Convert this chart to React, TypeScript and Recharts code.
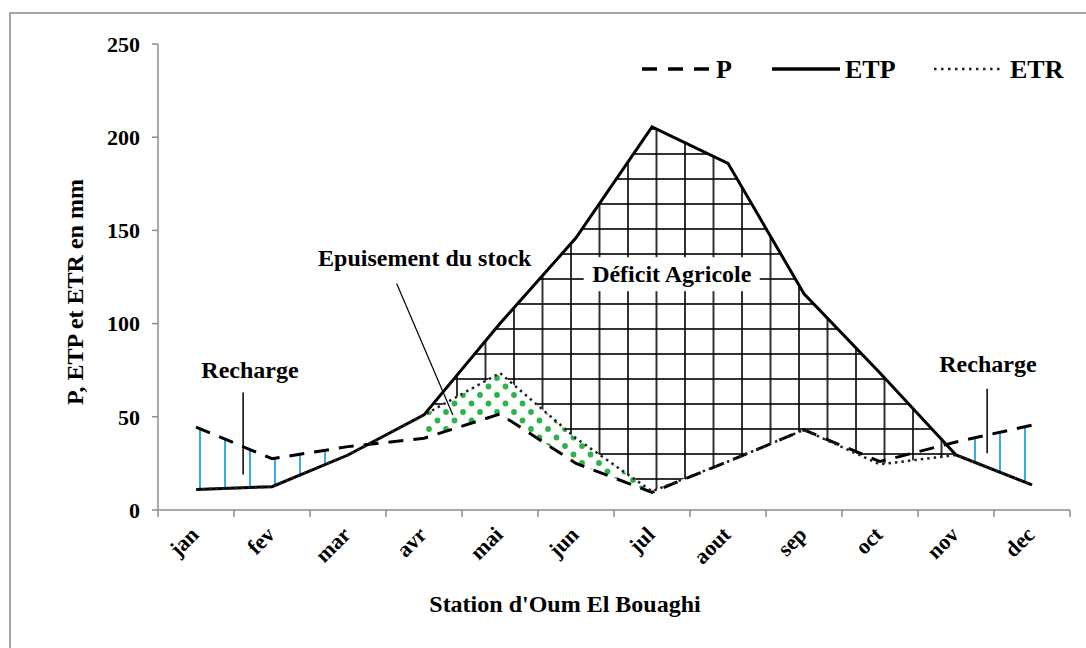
import React from "react";
import { ComposedChart, Line, Area, XAxis, YAxis, ReferenceLine, ReferenceDot } from "recharts";

const FONT = "'Liberation Serif', 'Times New Roman', serif";

const months = ["jan", "fev", "mar", "avr", "mai", "jun", "jul", "aout", "sep", "oct", "nov", "dec"];
const P = [44.5, 27.5, 34, 38.5, 51.5, 25, 9.5, 26, 43, 26, 36.5, 45.5];
const ETP = [11, 12.5, 29.5, 51, 100, 146, 205.5, 186, 116, 73.5, 29.5, 13.5];
const ETR = [11, 12.5, 29.5, 51, 73.5, 38.5, 10, 26, 43, 24.5, 29.5, 13.5];
const yTicks = [0, 50, 100, 150, 200, 250];

// months belonging to each zone of the water balance
const rechargeMonths = ["jan", "fev", "mar", "nov", "dec"];
const deficitMonths = ["avr", "mai", "jun", "jul", "aout", "sep", "oct", "nov"];
const stockMonths = ["avr", "mai", "jun", "jul"];

const data = months.map((m, i) => ({
  x: i + 0.5,
  P: P[i],
  ETP: ETP[i],
  ETR: ETR[i],
  recharge: rechargeMonths.includes(m) ? [ETP[i], P[i]] : null,
  deficit: deficitMonths.includes(m) ? [ETR[i], ETP[i]] : null,
  stock: stockMonths.includes(m) ? [P[i], ETR[i]] : null,
}));

// integer ticks = tick marks between months, half ticks = month names
const xTicks = months.flatMap((_, i) => [i, i + 0.5]).concat(months.length);

const XTick = (props: any) => {
  const { x, y, payload } = props;
  const v = payload.value;
  if (Number.isInteger(v)) {
    return <line x1={x} y1={y} x2={x} y2={y + 7} stroke="#8c8c8c" strokeWidth={1.5} />;
  }
  return (
    <text
      transform={`translate(${x + 4},${y + 26}) rotate(-45)`}
      textAnchor="end"
      fontSize={22}
      fontWeight="bold"
      fontFamily={FONT}
      fill="#000"
    >
      {months[Math.floor(v)]}
    </text>
  );
};

const note = (text: string, box = false) => (props: any) => {
  const vb = props.viewBox || {};
  const cx = vb.x + (vb.width || 0) / 2;
  const cy = vb.y + (vb.height || 0) / 2;
  return (
    <g>
      {box && <rect x={cx - 88} y={cy - 17} width={176} height={34} fill="#fff" />}
      <text
        x={cx}
        y={cy}
        textAnchor="middle"
        dominantBaseline="central"
        fontSize={24}
        fontWeight="bold"
        fontFamily={FONT}
        fill="#000"
      >
        {text}
      </text>
    </g>
  );
};

const YTitle = (props: any) => {
  const vb = props.viewBox || {};
  const cy = vb.y + vb.height / 2 + 15;
  return (
    <text
      transform={`translate(83,${cy}) rotate(-90)`}
      textAnchor="middle"
      fontSize={24}
      fontWeight="bold"
      fontFamily={FONT}
      fill="#000"
    >
      P, ETP et ETR en mm
    </text>
  );
};

const XTitle = (props: any) => {
  const vb = props.viewBox || {};
  return (
    <text
      x={vb.x + vb.width / 2 - 49}
      y={612}
      textAnchor="middle"
      fontSize={24}
      fontWeight="bold"
      fontFamily={FONT}
      fill="#000"
    >
      Station d'Oum El Bouaghi
    </text>
  );
};

export default function App() {
  return (
    <div style={{ position: "absolute", left: 0, top: 0, width: 1086, height: 648, background: "#fff", fontFamily: FONT }}>
      <div
        style={{
          position: "absolute",
          left: 9,
          top: 12,
          width: 1100,
          height: 700,
          borderTop: "2px solid #a6a6a6",
          borderLeft: "2px solid #a6a6a6",
        }}
      />
      <ComposedChart
        width={1086}
        height={648}
        data={data}
        margin={{ top: 44, right: 16, bottom: 28, left: 0 }}
        style={{ position: "absolute", left: 0, top: 0 }}
      >
        <defs>
          <pattern id="grid" patternUnits="userSpaceOnUse" width={28.5} height={25} y={3}>
            <line x1={1} y1={0} x2={1} y2={25} stroke="#000" strokeWidth={1.6} />
            <line x1={0} y1={1} x2={28.5} y2={1} stroke="#000" strokeWidth={1.6} />
          </pattern>
          <pattern id="dots" patternUnits="userSpaceOnUse" width={17} height={17}>
            <circle cx={4} cy={4} r={2.9} fill="#2db34a" />
            <circle cx={12.5} cy={12.5} r={2.9} fill="#2db34a" />
          </pattern>
          <pattern id="blue" patternUnits="userSpaceOnUse" width={25} height={10} x={-1}>
            <line x1={1} y1={0} x2={1} y2={10} stroke="#1fa3e0" strokeWidth={1.8} />
          </pattern>
        </defs>
        <XAxis
          dataKey="x"
          type="number"
          domain={[0, 12]}
          ticks={xTicks}
          interval={0}
          tickLine={false}
          tickSize={0}
          tickMargin={0}
          tick={<XTick />}
          axisLine={{ stroke: "#8c8c8c", strokeWidth: 1.5 }}
          height={110}
          label={XTitle}
        />
        <YAxis
          type="number"
          domain={[0, 250]}
          ticks={yTicks}
          width={158}
          tickSize={6}
          tickMargin={12}
          axisLine={{ stroke: "#8c8c8c", strokeWidth: 1.5 }}
          tickLine={{ stroke: "#8c8c8c", strokeWidth: 1.5 }}
          tick={{ fill: "#000", fontSize: 22, fontWeight: "bold", fontFamily: FONT }}
          label={YTitle}
        />
        <Area dataKey="deficit" stroke="none" fill="url(#grid)" fillOpacity={1} isAnimationActive={false} />
        <Area dataKey="stock" stroke="none" fill="url(#dots)" fillOpacity={1} isAnimationActive={false} />
        <Area dataKey="recharge" stroke="none" fill="url(#blue)" fillOpacity={1} isAnimationActive={false} />
        <Line dataKey="ETP" type="linear" stroke="#000" strokeWidth={3} dot={false} isAnimationActive={false} />
        <Line dataKey="P" type="linear" stroke="#000" strokeWidth={3} strokeDasharray="15 10" dot={false} isAnimationActive={false} />
        <Line dataKey="ETR" type="linear" stroke="#222" strokeWidth={2.5} strokeDasharray="2.5 4" dot={false} isAnimationActive={false} />
        <ReferenceLine segment={[{ x: 1.12, y: 63 }, { x: 1.12, y: 19 }]} stroke="#000" strokeWidth={1.5} />
        <ReferenceLine segment={[{ x: 10.91, y: 65 }, { x: 10.91, y: 30.5 }]} stroke="#000" strokeWidth={1.5} />
        <ReferenceLine segment={[{ x: 3.14, y: 121.5 }, { x: 3.88, y: 51 }]} stroke="#000" strokeWidth={1.2} />
        <ReferenceDot x={1.21} y={75} r={0} fill="none" stroke="none" label={note("Recharge")} />
        <ReferenceDot x={10.92} y={78.5} r={0} fill="none" stroke="none" label={note("Recharge")} />
        <ReferenceDot x={3.51} y={135} r={0} fill="none" stroke="none" label={note("Epuisement du stock")} />
        <ReferenceDot x={6.76} y={126.5} r={0} fill="none" stroke="none" label={note("Déficit Agricole", true)} />
      </ComposedChart>
      <svg width={1086} height={648} style={{ position: "absolute", left: 0, top: 0, pointerEvents: "none" }}>
        <g fontFamily={FONT} fontWeight="bold" fontSize={26} fill="#000">
          <line x1={642} y1={69} x2={713} y2={69} stroke="#000" strokeWidth={3.5} strokeDasharray="15 11" />
          <text x={716} y={78}>P</text>
          <line x1={772} y1={69} x2={840} y2={69} stroke="#000" strokeWidth={3.5} />
          <text x={845} y={78}>ETP</text>
          <line x1={934} y1={69} x2={1002} y2={69} stroke="#222" strokeWidth={2.5} strokeDasharray="2.5 4.5" />
          <text x={1010} y={78}>ETR</text>
        </g>
      </svg>
    </div>
  );
}
